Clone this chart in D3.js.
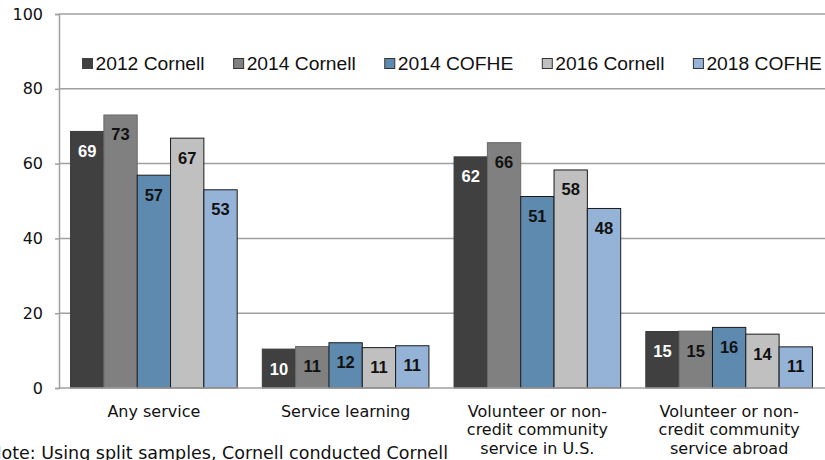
<!DOCTYPE html>
<html>
<head>
<meta charset="utf-8">
<script src="https://cdn.jsdelivr.net/npm/d3@7"></script>
<style>
  html, body { margin: 0; padding: 0; background: #fff; }
  svg { display: block; }
</style>
</head>
<body>
<svg id="chart" width="825" height="460"></svg>
<script>
// ---- data ----
const categories = ["Any service", "Service learning", "Volunteer in U.S.", "Volunteer abroad"];
const categoryLines = [
  ["Any service"],
  ["Service learning"],
  ["Volunteer or non-", "credit community", "service in U.S."],
  ["Volunteer or non-", "credit community", "service abroad"]
];
const seriesNames = ["2012 Cornell", "2014 Cornell", "2014 COFHE", "2016 Cornell", "2018 COFHE"];
const s2012Cornell = [68.6, 10.4, 61.8, 15.1];
const s2014Cornell = [73.0, 11.1, 65.6, 15.2];
const s2014COFHE   = [56.9, 12.1, 51.2, 16.2];
const s2016Cornell = [66.8, 10.8, 58.3, 14.4];
const s2018COFHE   = [53.0, 11.3, 48.0, 11.0];
const yTicks = [0, 20, 40, 60, 80, 100];
const noteText = "Note: Using split samples, Cornell conducted Cornell";

const seriesValues = [s2012Cornell, s2014Cornell, s2014COFHE, s2016Cornell, s2018COFHE];
const fills   = ["#404040", "#808080", "#5F8AB0", "#C0C0C0", "#95B3D7"];
const strokes = ["#3a3a3a", "#6a6a6a", "#1a1a1a", "#1a1a1a", "#1a1a1a"];
const labelColors = ["#ffffff", "#111111", "#111111", "#111111", "#111111"];

const svg = d3.select("#chart");
const plotLeft = 59, plotRight = 825, plotTop = 14, plotBottom = 388;

const x0 = d3.scaleBand().domain(categories).range([58, 825])
  .paddingInner(0.131).paddingOuter(0.0655);
const x1 = d3.scaleBand().domain(seriesNames).range([0, x0.bandwidth()]).padding(0);
const y = d3.scaleLinear().domain([0, 100]).range([plotBottom, plotTop]);

// gridlines
svg.append("g").selectAll("line").data(yTicks.filter(d => d > 0)).join("line")
  .attr("x1", plotLeft).attr("x2", plotRight)
  .attr("y1", d => y(d)).attr("y2", d => y(d))
  .attr("stroke", "#a0a0a0").attr("stroke-width", 1.5);

// y axis
const yAxis = d3.axisLeft(y).tickValues(yTicks).tickSize(4).tickPadding(12)
  .tickFormat(d3.format("d"));
const yg = svg.append("g").attr("transform", `translate(${plotLeft},0)`).call(yAxis);
yg.select(".domain").attr("stroke", "#a0a0a0").attr("stroke-width", 1.5);
yg.selectAll(".tick line").attr("stroke", "#a0a0a0").attr("stroke-width", 1.5);
yg.selectAll(".tick text").attr("font-family", "'DejaVu Sans', Verdana, sans-serif")
  .attr("font-size", 16).attr("fill", "#111");

// bars
const groups = svg.append("g").selectAll("g").data(categories).join("g")
  .attr("transform", d => `translate(${x0(d)},0)`);

groups.each(function(cat, ci) {
  const g = d3.select(this);
  seriesNames.forEach((s, si) => {
    const v = seriesValues[si][ci];
    g.append("rect")
      .attr("x", x1(s)).attr("width", x1.bandwidth())
      .attr("y", y(v)).attr("height", y(0) - y(v))
      .attr("fill", fills[si]).attr("stroke", strokes[si]).attr("stroke-width", 1);
    g.append("text")
      .attr("x", x1(s) + x1.bandwidth() / 2)
      .attr("y", y(v) + 25.5)
      .attr("text-anchor", "middle")
      .attr("font-family", "Arial, 'Liberation Sans', sans-serif")
      .attr("font-weight", "bold").attr("font-size", 16.5)
      .attr("fill", labelColors[si])
      .text(Math.round(v));
  });
});

// baseline
svg.append("line").attr("x1", plotLeft).attr("x2", plotRight)
  .attr("y1", y(0)).attr("y2", y(0)).attr("stroke", "#a0a0a0").attr("stroke-width", 1.5);

// x labels
const xl = svg.append("g");
categories.forEach((c, i) => {
  const t = xl.append("text")
    .attr("text-anchor", "middle")
    .attr("font-family", "'DejaVu Sans', Verdana, sans-serif")
    .attr("font-size", 16).attr("fill", "#111");
  categoryLines[i].forEach((ln, li) => {
    t.append("tspan").attr("x", x0(c) + x0.bandwidth() / 2)
      .attr("y", 416.5 + li * 18.5).text(ln);
  });
});

// legend
const legend = svg.append("g");
let lx = 82;
const legendStretch = 1.07;
seriesNames.forEach((s, si) => {
  legend.append("rect").attr("x", lx + 0.5).attr("y", 58.5).attr("width", 10).attr("height", 10)
    .attr("fill", fills[si]).attr("stroke", si === 0 ? fills[0] : "#333").attr("stroke-width", 1);
  const t = legend.append("text")
    .attr("transform", `translate(${lx + 13.5},70) scale(${legendStretch},1)`)
    .attr("font-family", "Arial, 'Liberation Sans', sans-serif").attr("font-size", 18)
    .attr("fill", "#111").text(s);
  lx += 13.5 + t.node().getComputedTextLength() * legendStretch + 28.5;
});

// note (cut off at bottom-left, as in the original)
svg.append("text").attr("x", 448).attr("y", 459).attr("text-anchor", "end")
  .attr("font-family", "'DejaVu Sans', Verdana, sans-serif").attr("font-size", 17.5)
  .attr("fill", "#111").text(noteText);
</script>
</body>
</html>
